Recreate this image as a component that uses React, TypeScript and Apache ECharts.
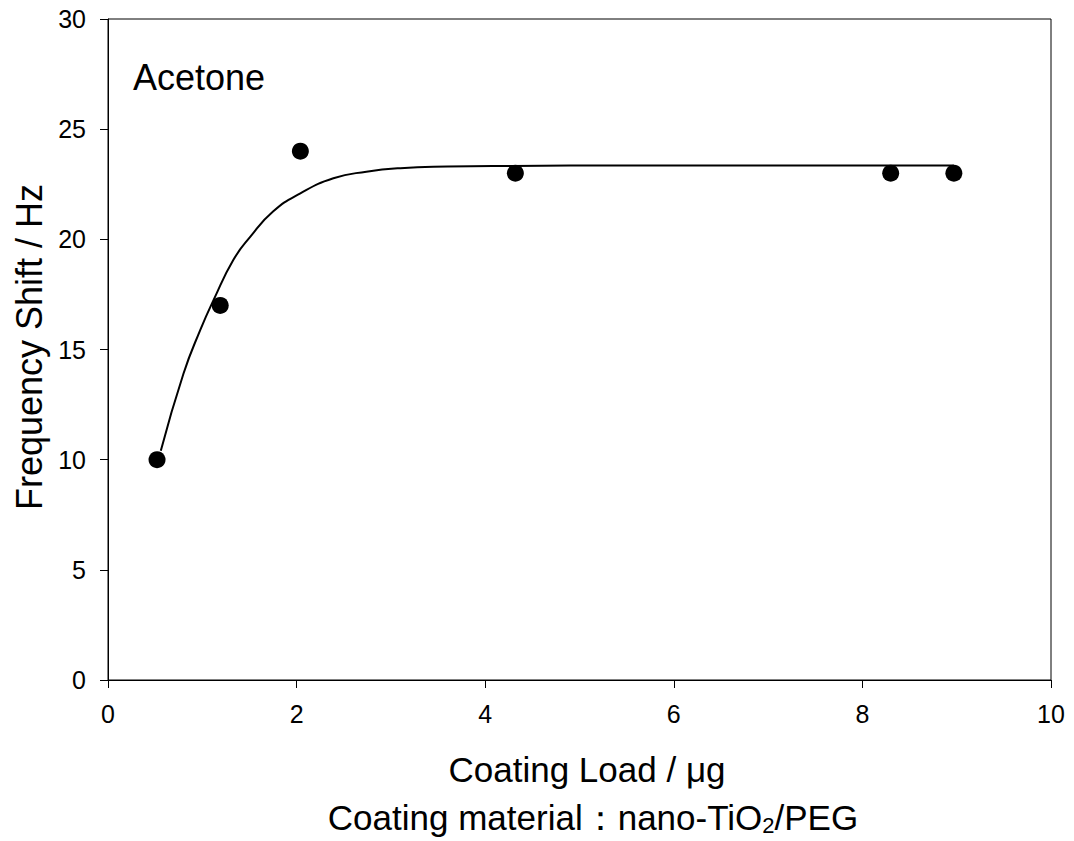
import React, { useEffect, useRef } from "react";
import * as echarts from "echarts";

// Measured points: coating load (µg) vs frequency shift (Hz)
const loadUg = [0.52, 1.19, 2.04, 4.32, 8.3, 8.97];
const shiftHz = [10, 17, 24, 23, 23, 23];

// Fitted saturation curve, sampled along its trace
const fitX = [0.56, 0.8, 0.98, 1.12, 1.33, 1.51, 1.75, 2.04, 2.39, 2.74, 3.1, 3.6, 4.3, 5.5, 7.0, 8.97];
const fitY = [10.4, 13.9, 15.9, 17.25, 19.07, 20.12, 21.26, 22.09, 22.77, 23.07, 23.23, 23.3, 23.33, 23.35, 23.35, 23.35];

const xTicks = [0, 2, 4, 6, 8, 10];
const yTicks = [0, 5, 10, 15, 20, 25, 30];

const FONT = "Liberation Sans, Arial, sans-serif";

export default function App() {
  const ref = useRef<HTMLDivElement>(null);

  useEffect(() => {
    if (!ref.current) return;
    const chart = echarts.init(ref.current, null, { renderer: "svg" });
    const axisLine = { show: true, lineStyle: { color: "#000", width: 1 } };
    chart.setOption({
      animation: false,
      backgroundColor: "#fff",
      grid: { left: 108, top: 19, right: 23, bottom: 161, show: true, borderColor: "#000", borderWidth: 1 },
      xAxis: {
        type: "value",
        min: xTicks[0],
        max: xTicks[xTicks.length - 1],
        interval: 2,
        axisLine,
        axisTick: { show: true, inside: false, length: 8, lineStyle: { color: "#000" } },
        axisLabel: { color: "#000", fontSize: 25, fontFamily: FONT, margin: 21 },
        splitLine: { show: false },
      },
      yAxis: {
        type: "value",
        min: yTicks[0],
        max: yTicks[yTicks.length - 1],
        interval: 5,
        axisLine,
        axisTick: { show: true, inside: false, length: 8, lineStyle: { color: "#000" } },
        axisLabel: { color: "#000", fontSize: 25, fontFamily: FONT, margin: 22 },
        splitLine: { show: false },
      },
      graphic: [
        {
          type: "text",
          x: 133,
          y: 77,
          style: {
            text: "Acetone",
            fontSize: 36,
            fontFamily: FONT,
            fill: "#000",
            align: "left",
            verticalAlign: "middle",
          },
        },
        {
          type: "text",
          x: 29,
          y: 347,
          rotation: Math.PI / 2,
          style: {
            text: "Frequency Shift / Hz",
            fontSize: 36,
            fontFamily: FONT,
            fill: "#000",
            align: "center",
            verticalAlign: "middle",
          },
        },
        {
          type: "text",
          x: 587,
          y: 769,
          style: {
            text: "Coating Load / μg",
            fontSize: 35,
            fontFamily: FONT,
            fill: "#000",
            align: "center",
            verticalAlign: "middle",
          },
        },
        {
          type: "text",
          x: 593,
          y: 817,
          style: {
            text: "{a|Coating material：nano-TiO}{s|2}{a|/PEG}",
            fontFamily: FONT,
            fill: "#000",
            align: "center",
            verticalAlign: "middle",
            rich: {
              a: { fontSize: 35, fontFamily: FONT, fill: "#000" },
              s: { fontSize: 22, fontFamily: FONT, fill: "#000", padding: [16, 0, 0, 0] },
            },
          },
        },
      ],
      series: [
        {
          type: "line",
          data: fitX.map((x, i) => [x, fitY[i]]),
          smooth: true,
          showSymbol: false,
          symbol: "none",
          lineStyle: { color: "#000", width: 2 },
          z: 2,
        },
        {
          type: "scatter",
          data: loadUg.map((x, i) => [x, shiftHz[i]]),
          symbol: "circle",
          symbolSize: 17,
          itemStyle: { color: "#000", opacity: 1 },
          z: 3,
        },
      ],
    });
    return () => chart.dispose();
  }, []);

  return (
    <div
      ref={ref}
      style={{ position: "fixed", left: 0, top: 0, width: 1074, height: 841, background: "#fff" }}
    />
  );
}
